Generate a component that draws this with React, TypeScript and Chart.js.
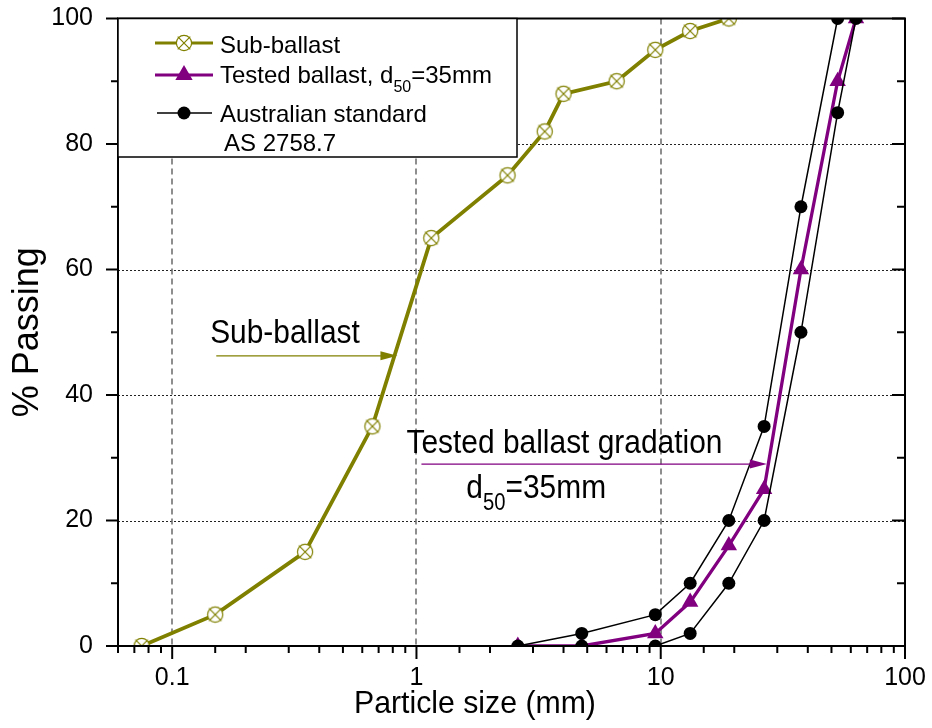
import React, { useEffect, useRef } from 'react';
import { Chart, registerables } from 'chart.js';

Chart.register(...registerables);

// ---------- data ----------
const subBallastSize = [0.075, 0.15, 0.35, 0.66, 1.15, 2.36, 3.35, 4, 6.6, 9.5, 13.2, 19];
const subBallastPassing = [0, 5, 15, 35, 65, 75, 82, 88, 90, 95, 98, 100];

const testedSize = [2.6, 4.75, 9.5, 13.2, 19, 26.5, 37.5, 53, 63];
const testedPassing = [0, 0, 2, 7, 16, 25, 60, 90, 100];

const stdUpperSize = [2.6, 4.75, 9.5, 13.2, 19, 26.5, 37.5, 53];
const stdUpperPassing = [0, 2, 5, 10, 20, 35, 70, 100];

const stdLowerSize = [4.75, 9.5, 13.2, 19, 26.5, 37.5, 53, 63];
const stdLowerPassing = [0, 0, 2, 10, 20, 50, 85, 100];

const xTickLabels = ['0.1', '1', '10', '100'];
const yTickValues = [0, 20, 40, 60, 80, 100];
const yMinorStep = 10;
const xMin = 0.06;
const xMax = 100;

const xTitle = 'Particle size (mm)';
const yTitle = '% Passing';

const legendSub = 'Sub-ballast';
const legendTestedMain = 'Tested ballast, d';
const legendTestedSub = '50';
const legendTestedTail = '=35mm';
const legendStd1 = 'Australian standard';
const legendStd2 = 'AS 2758.7';

const noteSub = 'Sub-ballast';
const noteTested = 'Tested ballast gradation';
const noteD = 'd';
const noteDSub = '50';
const noteDTail = '=35mm';

// annotation anchors in data coordinates
const noteSubAt = { x: 0.143, y: 48.3 };
const arrowSub = { from: 0.1515, to: 0.836, y: 46.25 };
const noteTestedAt = { x: 0.91, y: 30.76 };
const arrowTested = { from: 1.048, to: 27.2, y: 29.0 };
const noteD50At = { x: 1.6, y: 23.6 };
const xTitleAt = { x: 0.555 };

// ---------- styles ----------
const OLIVE = '#808000';
const PURPLE = '#800080';
const FONT = '"Liberation Sans", Arial, Helvetica, sans-serif';

function makeCrossCircle(): HTMLCanvasElement {
  const c = document.createElement('canvas');
  c.width = 20;
  c.height = 20;
  const g = c.getContext('2d')!;
  g.fillStyle = '#ffffff';
  g.strokeStyle = OLIVE;
  g.lineWidth = 1.2;
  g.beginPath();
  g.arc(10, 10, 7.6, 0, Math.PI * 2);
  g.fill();
  g.stroke();
  g.beginPath();
  g.moveTo(10 - 6.3, 10 - 6.3);
  g.lineTo(10 + 6.3, 10 + 6.3);
  g.moveTo(10 + 6.3, 10 - 6.3);
  g.lineTo(10 - 6.3, 10 + 6.3);
  g.stroke();
  return c;
}

function isDecade(v: number) {
  const l = Math.log10(v);
  return Math.abs(l - Math.round(l)) < 1e-6;
}

function drawScaledText(ctx: CanvasRenderingContext2D, text: string, x: number, y: number, size: number, sx: number) {
  ctx.save();
  ctx.translate(x, y);
  ctx.scale(sx, 1);
  ctx.font = `${size}px ${FONT}`;
  ctx.fillText(text, 0, 0);
  const w = ctx.measureText(text).width * sx;
  ctx.restore();
  return w;
}

function drawArrow(ctx: CanvasRenderingContext2D, x1: number, x2: number, y: number, color: string) {
  ctx.save();
  ctx.strokeStyle = color;
  ctx.fillStyle = color;
  ctx.lineWidth = 1.2;
  ctx.beginPath();
  ctx.moveTo(x1, y);
  ctx.lineTo(x2 - 10, y);
  ctx.stroke();
  ctx.beginPath();
  ctx.moveTo(x2, y);
  ctx.lineTo(x2 - 17, y - 4.5);
  ctx.lineTo(x2 - 17, y + 4.5);
  ctx.closePath();
  ctx.fill();
  ctx.restore();
}

function drawTriangle(ctx: CanvasRenderingContext2D, x: number, y: number, r: number) {
  ctx.beginPath();
  ctx.moveTo(x, y - r);
  ctx.lineTo(x + Math.sin((2 * Math.PI) / 3) * r, y + r / 2);
  ctx.lineTo(x - Math.sin((2 * Math.PI) / 3) * r, y + r / 2);
  ctx.closePath();
}

function makeDecorPlugin(crossImg: HTMLCanvasElement) {
  return {
    id: 'decor',
    beforeDatasetsDraw(chart: any) {
      const { ctx, chartArea: a, scales } = chart;
      const x = scales.x;
      const y = scales.y;
      ctx.save();
      // horizontal dotted grid
      ctx.strokeStyle = '#222';
      ctx.lineWidth = 1;
      ctx.setLineDash([2, 2]);
      for (const v of yTickValues) {
        if (v <= 0 || v >= 100) continue;
        const py = Math.round(y.getPixelForValue(v)) + 0.5;
        ctx.beginPath();
        ctx.moveTo(a.left, py);
        ctx.lineTo(a.right, py);
        ctx.stroke();
      }
      // vertical dashed grid at decades
      ctx.strokeStyle = '#6a6a6a';
      ctx.lineWidth = 1.5;
      ctx.setLineDash([6, 4]);
      for (const lab of xTickLabels) {
        const v = Number(lab);
        if (v <= xMin || v >= xMax) continue;
        const px = Math.round(x.getPixelForValue(v));
        ctx.beginPath();
        ctx.moveTo(px, a.top);
        ctx.lineTo(px, a.bottom);
        ctx.stroke();
      }
      ctx.restore();
    },
    afterDatasetsDraw(chart: any) {
      const { ctx, chartArea: a, scales } = chart;
      const x = scales.x;
      const y = scales.y;
      ctx.save();
      ctx.setLineDash([]);
      // frame
      ctx.strokeStyle = '#000';
      ctx.lineWidth = 2;
      ctx.strokeRect(a.left, a.top, a.right - a.left, a.bottom - a.top);
      // y ticks: left outward, right inward
      for (let v = 0; v <= 100; v += yMinorStep) {
        const major = yTickValues.includes(v);
        const py = y.getPixelForValue(v);
        ctx.beginPath();
        ctx.moveTo(a.left - (major ? 12 : 7), py);
        ctx.lineTo(a.left, py);
        ctx.moveTo(a.right, py);
        ctx.lineTo(a.right - (major ? 13 : 8), py);
        ctx.stroke();
      }
      // x ticks (from the log scale's own ticks): outward
      for (const t of x.ticks) {
        const v = t.value;
        if (v < xMin - 1e-9 || v > xMax + 1e-9) continue;
        const px = x.getPixelForValue(v);
        const len = isDecade(v) ? 13 : 7;
        ctx.beginPath();
        ctx.moveTo(px, a.bottom);
        ctx.lineTo(px, a.bottom + len);
        ctx.stroke();
      }

      // x axis title
      ctx.fillStyle = '#000';
      ctx.textBaseline = 'alphabetic';
      ctx.textAlign = 'left';
      drawScaledText(ctx, xTitle, x.getPixelForValue(xTitleAt.x), a.bottom + 67, 32, 0.945);

      // annotations
      drawScaledText(ctx, noteSub, x.getPixelForValue(noteSubAt.x), y.getPixelForValue(noteSubAt.y), 34, 0.88);
      drawArrow(ctx, x.getPixelForValue(arrowSub.from), x.getPixelForValue(arrowSub.to), y.getPixelForValue(arrowSub.y), OLIVE);
      drawScaledText(ctx, noteTested, x.getPixelForValue(noteTestedAt.x), y.getPixelForValue(noteTestedAt.y), 34, 0.88);
      drawArrow(ctx, x.getPixelForValue(arrowTested.from), x.getPixelForValue(arrowTested.to), y.getPixelForValue(arrowTested.y), PURPLE);
      {
        let px = x.getPixelForValue(noteD50At.x);
        const py = y.getPixelForValue(noteD50At.y);
        px += drawScaledText(ctx, noteD, px, py, 34, 0.88);
        px += drawScaledText(ctx, noteDSub, px, py + 12, 23, 0.88);
        drawScaledText(ctx, noteDTail, px, py, 34, 0.88);
      }

      // legend box
      const L = a.left;
      const T = a.top;
      ctx.fillStyle = '#fff';
      ctx.fillRect(L, T, 399, 138.5);
      ctx.strokeStyle = '#000';
      ctx.lineWidth = 1.5;
      ctx.strokeRect(L, T, 399, 138.5);

      const lx1 = L + 37;
      const lx2 = L + 95;
      const mx = L + 66;
      const tx = L + 102;
      // row 1
      ctx.strokeStyle = OLIVE;
      ctx.lineWidth = 3;
      ctx.beginPath();
      ctx.moveTo(lx1, T + 24.5);
      ctx.lineTo(lx2, T + 24.5);
      ctx.stroke();
      ctx.drawImage(crossImg, mx - 10, T + 24.5 - 10);
      // row 2
      ctx.strokeStyle = PURPLE;
      ctx.beginPath();
      ctx.moveTo(lx1, T + 56.5);
      ctx.lineTo(lx2, T + 56.5);
      ctx.stroke();
      ctx.fillStyle = PURPLE;
      drawTriangle(ctx, mx, T + 56.5, 10);
      ctx.fill();
      // row 3
      ctx.strokeStyle = '#000';
      ctx.lineWidth = 1.5;
      ctx.beginPath();
      ctx.moveTo(lx1 + 2, T + 94.5);
      ctx.lineTo(lx2 - 1, T + 94.5);
      ctx.stroke();
      ctx.fillStyle = '#000';
      ctx.beginPath();
      ctx.arc(mx, T + 94.5, 6.5, 0, Math.PI * 2);
      ctx.fill();

      ctx.fillStyle = '#000';
      drawScaledText(ctx, legendSub, tx, T + 34, 24, 1);
      let px = tx;
      px += drawScaledText(ctx, legendTestedMain, px, T + 64.5, 24, 1);
      px += drawScaledText(ctx, legendTestedSub, px, T + 73.5, 16, 1);
      drawScaledText(ctx, legendTestedTail, px, T + 64.5, 24, 1);
      drawScaledText(ctx, legendStd1, tx, T + 103, 24, 1);
      drawScaledText(ctx, legendStd2, tx + 4, T + 132.5, 24, 1);
      ctx.restore();
    },
  };
}

function noScalePadding(scale: any) {
  scale.paddingTop = 0;
  scale.paddingBottom = 0;
  scale.paddingLeft = 0;
  scale.paddingRight = 0;
}

export default function App() {
  const canvasRef = useRef<HTMLCanvasElement | null>(null);

  useEffect(() => {
    const canvas = canvasRef.current;
    if (!canvas) return;
    const crossImg = makeCrossCircle();
    const pts = (xs: number[], ys: number[]) => xs.map((x, i) => ({ x, y: ys[i] }));

    const chart = new Chart(canvas, {
      type: 'scatter',
      data: {
        datasets: [
          {
            label: 'Australian standard AS 2758.7 (upper)',
            data: pts(stdUpperSize, stdUpperPassing),
            showLine: true,
            borderColor: '#000',
            borderWidth: 1.5,
            backgroundColor: '#000',
            pointStyle: 'circle',
            pointRadius: 6.5,
            pointBorderWidth: 0,
            order: 1,
            clip: 0,
          },
          {
            label: 'Australian standard AS 2758.7 (lower)',
            data: pts(stdLowerSize, stdLowerPassing),
            showLine: true,
            borderColor: '#000',
            borderWidth: 1.5,
            backgroundColor: '#000',
            pointStyle: 'circle',
            pointRadius: 6.5,
            pointBorderWidth: 0,
            order: 2,
            clip: 0,
          },
          {
            label: 'Tested ballast, d50=35mm',
            data: pts(testedSize, testedPassing),
            showLine: true,
            borderColor: PURPLE,
            borderWidth: 3.3,
            backgroundColor: PURPLE,
            pointStyle: 'triangle',
            pointRadius: 9.5,
            pointBorderWidth: 0,
            order: 3,
            clip: 0,
          },
          {
            label: 'Sub-ballast',
            data: pts(subBallastSize, subBallastPassing),
            showLine: true,
            borderColor: OLIVE,
            borderWidth: 3.8,
            backgroundColor: OLIVE,
            pointStyle: crossImg as any,
            pointRadius: 8,
            order: 4,
            clip: 0,
          },
        ] as any,
      },
      options: {
        responsive: false,
        maintainAspectRatio: false,
        animation: false,
        devicePixelRatio: 1,
        events: [],
        layout: { padding: { left: 0, right: 27, top: 18.5, bottom: 0 } },
        plugins: {
          legend: { display: false },
          tooltip: { enabled: false },
        },
        scales: {
          x: {
            type: 'logarithmic',
            position: 'bottom',
            min: xMin,
            max: xMax,
            border: { display: false },
            grid: { display: false, drawTicks: false },
            ticks: {
              autoSkip: false,
              maxRotation: 0,
              minRotation: 0,
              padding: 17,
              color: '#000',
              font: { family: FONT, size: 25 },
              callback: (value: any) => {
                const v = Number(value);
                const hit = xTickLabels.find((s) => Math.abs(Number(s) - v) / v < 1e-6);
                return hit ?? '';
              },
            },
            title: { display: false },
            afterFit: (scale: any) => {
              scale.height = 82;
              noScalePadding(scale);
            },
          },
          y: {
            type: 'linear',
            min: 0,
            max: 100,
            border: { display: false },
            grid: { display: false, drawTicks: false },
            afterBuildTicks: (scale: any) => {
              scale.ticks = yTickValues.map((v) => ({ value: v }));
            },
            ticks: {
              padding: 25,
              color: '#000',
              font: { family: FONT, size: 25 },
            },
            title: {
              display: true,
              text: yTitle,
              color: '#000',
              font: { family: FONT, size: 36 },
              padding: { top: 6, bottom: 4 },
            },
            afterFit: (scale: any) => {
              scale.width = 118;
              noScalePadding(scale);
            },
          },
        },
      } as any,
      plugins: [makeDecorPlugin(crossImg)],
    });

    return () => {
      chart.destroy();
    };
  }, []);

  return (
    <div style={{ position: 'absolute', left: 0, top: 0, width: 932, height: 728, background: '#fff' }}>
      <canvas ref={canvasRef} width={932} height={728} style={{ display: 'block', width: 932, height: 728 }} />
    </div>
  );
}
